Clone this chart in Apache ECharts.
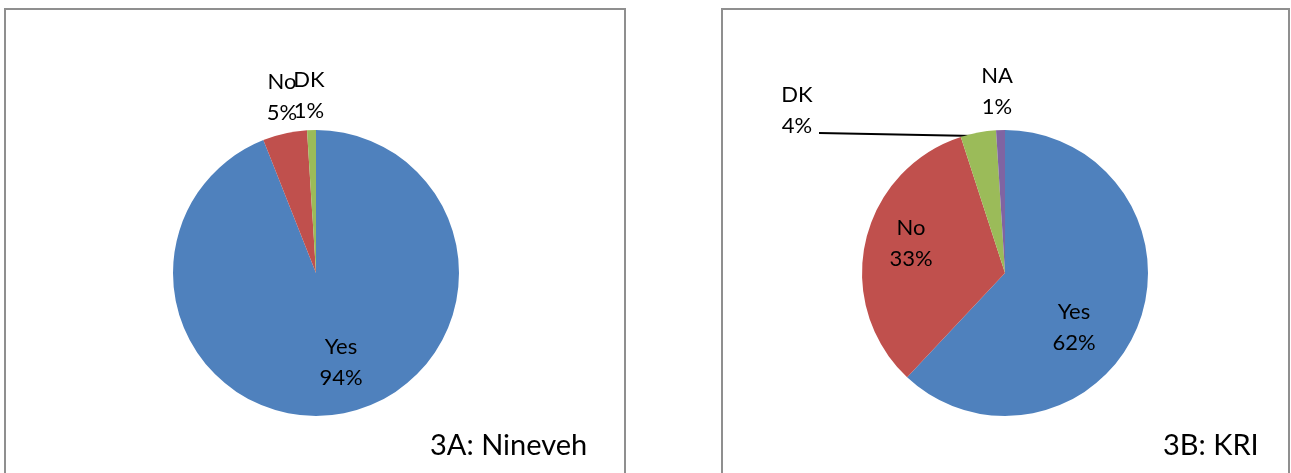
<!DOCTYPE html>
<html>
<head>
<meta charset="utf-8">
<script src="https://cdn.jsdelivr.net/npm/echarts@6/dist/echarts.min.js"></script>
<style>
  html, body { margin: 0; padding: 0; background: #fff; }
  #chart { width: 1291px; height: 473px; }
</style>
</head>
<body>
<div id="chart"></div>
<script>
// Answer shares (%) for each region
const categoriesNineveh = ['Yes', 'No', 'DK'];
const valuesNineveh = [94, 5, 1];
const categoriesKRI = ['Yes', 'No', 'DK', 'NA'];
const valuesKRI = [62, 33, 4, 1];
const panelTitles = ['3A: Nineveh', '3B: KRI'];

const sliceColors = { Yes: '#4F81BD', No: '#C0504D', DK: '#9BBB59', NA: '#8064A2' };
const FONT = 'Lato, "Open Sans", sans-serif';

// Label anchor points (label centre) for each panel
const labelSpots = [
  { Yes: [341, 362], No: [282, 97], DK: [309, 95] },
  { Yes: [1074, 327], No: [911, 243], DK: [797, 110], NA: [997, 91] }
];
const leaderLine = [[975, 136], [819, 133]];

function buildData(cats, vals, panel) {
  return cats.map((name, i) => {
    const item = { name, value: vals[i], itemStyle: { color: sliceColors[name] } };
    if (panel === 1 && name === 'DK') {
      item.label = { position: 'outside' };
      item.labelLine = { show: true, lineStyle: { color: '#000', width: 2 } };
    }
    return item;
  });
}

function pieSeries(cats, vals, panel, center) {
  return {
    type: 'pie',
    center: center,
    radius: 143,
    startAngle: 90,
    clockwise: true,
    animation: false,
    silent: true,
    itemStyle: { borderWidth: 0 },
    label: {
      show: true,
      position: 'inside',
      formatter: '{b}\n{c}%',
      color: '#000',
      fontFamily: FONT,
      fontSize: 22,
      lineHeight: 31,
      align: 'center'
    },
    labelLine: { show: false },
    labelLayout: function (p) {
      const spot = labelSpots[panel][cats[p.dataIndex]];
      const out = { x: spot[0], y: spot[1], align: 'center', verticalAlign: 'middle' };
      if (panel === 1 && cats[p.dataIndex] === 'DK') out.labelLinePoints = leaderLine;
      return out;
    },
    data: buildData(cats, vals, panel)
  };
}

const chart = echarts.init(document.getElementById('chart'), null, { renderer: 'canvas' });
chart.setOption({
  backgroundColor: '#fff',
  graphic: [
    { type: 'rect', shape: { x: 5, y: 9, width: 620, height: 500 },
      style: { fill: 'none', stroke: '#8f8f8f', lineWidth: 2 }, z: -1 },
    { type: 'rect', shape: { x: 722, y: 9, width: 567, height: 500 },
      style: { fill: 'none', stroke: '#8f8f8f', lineWidth: 2 }, z: -1 },
    { type: 'text', left: 430, top: 431,
      style: { text: panelTitles[0], font: '29px ' + FONT, fill: '#000' } },
    { type: 'text', left: 1163, top: 431,
      style: { text: panelTitles[1], font: '29px ' + FONT, fill: '#000' } }
  ],
  series: [
    pieSeries(categoriesNineveh, valuesNineveh, 0, [316, 273]),
    pieSeries(categoriesKRI, valuesKRI, 1, [1005, 273])
  ]
});
</script>
</body>
</html>
